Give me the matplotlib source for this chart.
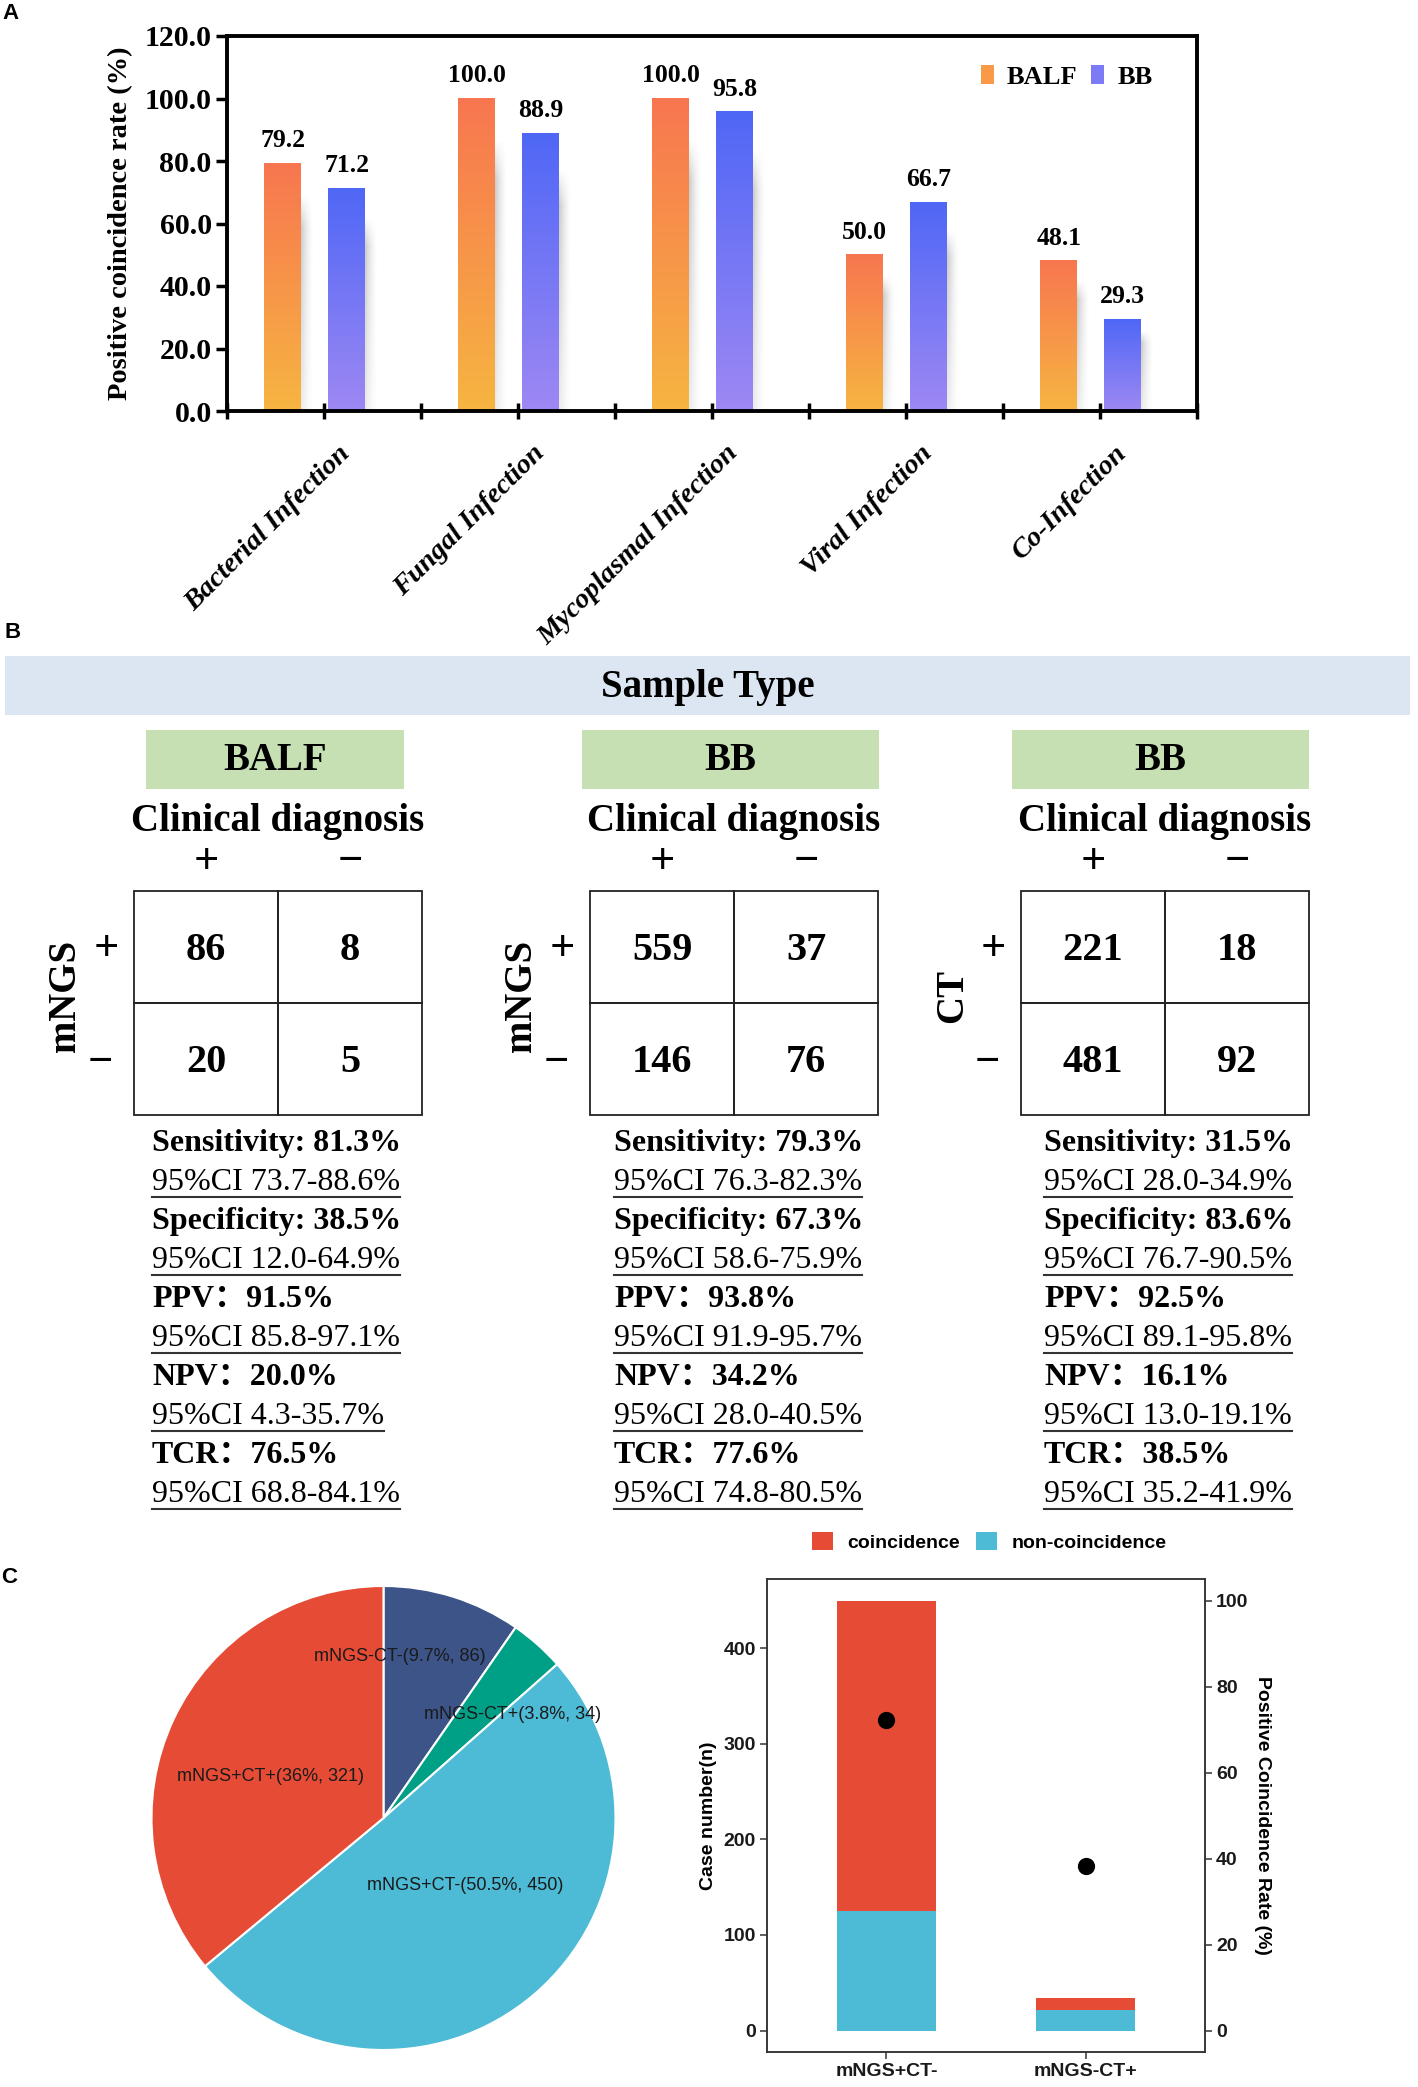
import numpy as np
import matplotlib
matplotlib.use("Agg")
import matplotlib.pyplot as plt
from matplotlib.patches import Rectangle, Patch
from matplotlib.ticker import MultipleLocator, FormatStrFormatter
from matplotlib.colors import to_rgb
from matplotlib.transforms import ScaledTranslation

W, H = 1418, 2087
SERIF = ["Liberation Serif", "Noto Sans CJK SC"]
SANS = ["Liberation Sans"]
plt.rcParams["font.family"] = SERIF

# ---- panel A: positive coincidence rate by infection type
infections = ["Bacterial Infection", "Fungal Infection", "Mycoplasmal Infection",
              "Viral Infection", "Co-Infection"]
balf_rate = [79.2, 100.0, 100.0, 50.0, 48.1]
bb_rate = [71.2, 88.9, 95.8, 66.7, 29.3]

# ---- panel B: 2x2 tables and metrics
sample_types = ["BALF", "BB", "BB"]
test_names = ["mNGS", "mNGS", "CT"]
counts = [
    [[86, 8], [20, 5]],
    [[559, 37], [146, 76]],
    [[221, 18], [481, 92]],
]
metric_names = ["Sensitivity: ", "Specificity: ", "PPV：", "NPV：", "TCR："]
metric_vals = [
    ["81.3%", "38.5%", "91.5%", "20.0%", "76.5%"],
    ["79.3%", "67.3%", "93.8%", "34.2%", "77.6%"],
    ["31.5%", "83.6%", "92.5%", "16.1%", "38.5%"],
]
ci_vals = [
    ["73.7-88.6%", "12.0-64.9%", "85.8-97.1%", "4.3-35.7%", "68.8-84.1%"],
    ["76.3-82.3%", "58.6-75.9%", "91.9-95.7%", "28.0-40.5%", "74.8-80.5%"],
    ["28.0-34.9%", "76.7-90.5%", "89.1-95.8%", "13.0-19.1%", "35.2-41.9%"],
]

# ---- panel C: mNGS vs CT
pie_names = ["mNGS-CT-", "mNGS-CT+", "mNGS+CT-", "mNGS+CT+"]
pie_counts = [86, 34, 450, 321]
pie_pcts = ["9.7%", "3.8%", "50.5%", "36%"]
groups = ["mNGS+CT-", "mNGS-CT+"]
coincidence = [325, 13]
non_coincidence = [125, 21]
coincidence_rate = [72.2, 38.2]

C_RED, C_BLUE, C_NAVY, C_GREEN = "#E64B35", "#4DBBD5", "#3C5488", "#00A087"


def frac(x0, y0, x1, y1):
    # pixel box (top-left origin) -> figure fraction rect
    return [x0 / W, 1 - y1 / H, (x1 - x0) / W, (y1 - y0) / H]


def shade_bars(ax, bars, top, bot):
    ramp = np.linspace(0, 1, 200)[:, None, None]
    img = (1 - ramp) * np.array(to_rgb(top)) + ramp * np.array(to_rgb(bot))
    u = np.linspace(0, 1, 40)[None, :]
    v = np.linspace(0, 1, 120)[:, None]
    alpha = (1 - u) ** 1.6 * np.clip(v / 0.15, 0, 1) * (1 - 0.65 * v) * 0.45
    shadow = np.zeros((120, 40, 4))
    shadow[..., :3] = 0.35
    shadow[..., 3] = alpha
    for b in bars:
        x0, w, h = b.get_x(), b.get_width(), b.get_height()
        ax.imshow(shadow, extent=[x0 + w - 0.01, x0 + w + 0.065, 0, h * 0.87],
                  aspect="auto", zorder=1, interpolation="bilinear")
        ax.imshow(img, extent=[x0, x0 + w, 0, h], aspect="auto", zorder=2,
                  interpolation="bilinear")


fig = plt.figure(figsize=(W / 100, H / 100), dpi=100)
ov = fig.add_axes([0, 0, 1, 1])
ov.set_xlim(0, W)
ov.set_ylim(H, 0)
ov.axis("off")

for letter, (lx, ly) in zip("ABC", [(2, 3), (4, 622), (1, 1567)]):
    ov.text(lx, ly, letter, fontsize=16, fontweight="bold", family=SANS,
            ha="left", va="top")

# ================= panel A =================
axA = fig.add_axes(frac(227, 36, 1197, 411))
n = len(infections)
gx = np.arange(n)
bw = 0.19
balf_bars = axA.bar(gx + 0.288, balf_rate, bw, color="none", linewidth=0)
bb_bars = axA.bar(gx + 0.617, bb_rate, bw, color="none", linewidth=0)
shade_bars(axA, balf_bars, "#F87650", "#F6B541")
shade_bars(axA, bb_bars, "#4F67F6", "#9E88F3")
for bars, vals in ((balf_bars, balf_rate), (bb_bars, bb_rate)):
    for b, v in zip(bars, vals):
        axA.annotate(f"{v:.1f}", (b.get_x() + b.get_width() / 2, v),
                     xytext=(0, 8), textcoords="offset points", ha="center",
                     va="bottom", fontsize=18.5, fontweight="bold")

axA.set_xlim(0, n)
axA.set_ylim(0, 120)
axA.yaxis.set_major_locator(MultipleLocator(20))
axA.yaxis.set_major_formatter(FormatStrFormatter("%.1f"))
axA.set_xticks(gx + 0.5)
axA.set_xticks(np.arange(n + 1), minor=True)
axA.tick_params(axis="x", which="both", direction="inout", length=11, width=2.5, pad=16)
axA.tick_params(axis="y", direction="out", length=8, width=2.5, labelsize=21.5, pad=3)
axA.set_xticklabels(infections, rotation=45, ha="right", rotation_mode="anchor",
                    fontsize=20.5, fontweight="bold", style="italic")
shift = ScaledTranslation(10 / 72, 0, fig.dpi_scale_trans)
for lab in axA.get_xticklabels():
    lab.set_transform(lab.get_transform() + shift)
for lab in axA.get_yticklabels():
    lab.set_fontweight("bold")
for sp in axA.spines.values():
    sp.set_linewidth(2.8)
axA.set_ylabel("Positive coincidence rate (%)", fontsize=20.5, fontweight="bold",
               labelpad=8)
axA.legend([Patch(facecolor="#F89A48"), Patch(facecolor="#7C7BF5")], ["BALF", "BB"],
           loc="center", bbox_to_anchor=(0.8655, 0.8907), ncol=2, frameon=False,
           handlelength=0.5, handleheight=0.75, handletextpad=0.5,
           columnspacing=0.5, borderpad=0,
           prop=dict(family=SERIF, weight="bold", size=19))

# ================= panel B =================
ov.add_patch(Rectangle((5, 656), 1405, 59, color="#DCE6F2", lw=0))
ov.text(708, 687, "Sample Type", fontsize=28, fontweight="bold",
        ha="center", va="center")

table_left = [134, 590, 1021]
green_boxes = [(146, 404), (582, 879), (1012, 1309)]
stat_left = [152, 614, 1044]
cw, ch = 144, 112
tab_top = 891
signs = ["+", "\u2212"]
ci_texts = []

for k in range(len(sample_types)):
    tx = table_left[k]
    g0, g1 = green_boxes[k]
    ov.add_patch(Rectangle((g0, 730), g1 - g0, 59, color="#C6E0B4", lw=0))
    ov.text((g0 + g1) / 2, 761, sample_types[k], fontsize=28, fontweight="bold",
            ha="center", va="center")
    ov.text(tx + cw, 822, "Clinical diagnosis", fontsize=28, fontweight="bold",
            ha="center", va="center")
    for c in range(2):
        ov.text(tx + cw / 2 + cw * c, 862, signs[c], fontsize=32, fontweight="bold",
                ha="center", va="center")
    ov.text(tx - 28, tab_top + ch / 2 + 2, signs[0], fontsize=32, fontweight="bold",
            ha="center", va="center")
    ov.text(tx - 34, tab_top + ch * 1.5 + 4, signs[1], fontsize=32,
            fontweight="bold", ha="center", va="center")
    ov.text(tx - 68, tab_top + ch - 7, test_names[k], fontsize=28, fontweight="bold",
            rotation=90, ha="center", va="center")

    axT = fig.add_axes(frac(tx, tab_top, tx + 2 * cw, tab_top + 2 * ch))
    axT.set_xlim(0, 2)
    axT.set_ylim(2, 0)
    axT.axis("off")
    for r in range(2):
        for c in range(2):
            axT.add_patch(Rectangle((c, r), 1, 1, fill=False, ec="#222222",
                                    lw=1.3, clip_on=False))
            axT.text(c + 0.5, r + 0.53, str(counts[k][r][c]), fontsize=29,
                     fontweight="bold", ha="center", va="center")

    for i, name in enumerate(metric_names):
        y_m = 1143 + 78 * i
        ov.text(stat_left[k], y_m, name + metric_vals[k][i], fontsize=23,
                fontweight="bold", ha="left", va="center")
        t = ov.text(stat_left[k], y_m + 39, "95%CI " + ci_vals[k][i], fontsize=23,
                    ha="left", va="center")
        ci_texts.append((t, y_m + 39))

# ================= panel C: pie =================
axP = fig.add_axes(frac(151.5, 1586, 615.5, 2050))
axP.pie(pie_counts, colors=[C_NAVY, C_GREEN, C_BLUE, C_RED], startangle=90,
        counterclock=False, radius=1,
        wedgeprops=dict(edgecolor="white", linewidth=1.5))
axP.set_xlim(-1, 1)
axP.set_ylim(-1, 1)
label_pos = [(0.071, 0.694), (0.558, 0.448), (0.351, -0.293), (-0.485, 0.177)]
for name, pct, cnt, (px, py) in zip(pie_names, pie_pcts, pie_counts, label_pos):
    axP.text(px, py, f"{name}({pct}, {cnt})", ha="center", va="center",
             fontsize=13, family=SANS, color="#1a1a1a")

# ================= panel C: bars =================
axC = fig.add_axes(frac(767, 1579, 1205, 2052))
xc = np.arange(1, len(groups) + 1)
axC.bar(xc, non_coincidence, 0.5, color=C_BLUE, label="non-coincidence")
axC.bar(xc, coincidence, 0.5, bottom=non_coincidence, color=C_RED,
        label="coincidence")
axC.set_xlim(0.4, 2.6)
axC.set_ylim(-22.5, 472.5)
axC.set_yticks(range(0, 401, 100))
axC.set_xticks(xc)
axC.set_xticklabels(groups)
ax2 = axC.twinx()
ax2.set_ylim(-5, 105)
ax2.set_yticks(range(0, 101, 20))
ax2.scatter(xc, coincidence_rate, s=130, color="black", zorder=3)

for a in (axC, ax2):
    for sp in a.spines.values():
        sp.set_color("#333333")
        sp.set_linewidth(1.1)
    a.tick_params(length=5, width=1.1, color="#333333", labelsize=14, pad=3)
    for lab in a.get_xticklabels() + a.get_yticklabels():
        lab.set_family(SANS)
        lab.set_fontweight("bold")
        lab.set_color("#1a1a1a")
axC.set_ylabel("Case number(n)", fontsize=14, fontweight="bold", family=SANS,
               labelpad=5)
ax2.set_ylabel("Positive Coincidence Rate (%)", fontsize=14, fontweight="bold",
               family=SANS, rotation=270, va="bottom", labelpad=4)
axC.legend([Patch(facecolor=C_RED), Patch(facecolor=C_BLUE)],
           ["coincidence", "non-coincidence"], loc="center",
           bbox_to_anchor=(0.507, 1.079), ncol=2, frameon=False,
           handlelength=1.1, handleheight=1.1, handletextpad=0.75,
           columnspacing=0.8, borderpad=0,
           prop=dict(family=SANS, weight="bold", size=14))

# underline the CI lines
renderer = fig.canvas.get_renderer()
for t, y in ci_texts:
    bb = t.get_window_extent(renderer=renderer)
    ov.plot([bb.x0, bb.x1], [y + 15, y + 15], color="#333333", lw=1.5)

fig.savefig("out.png", dpi=100)
